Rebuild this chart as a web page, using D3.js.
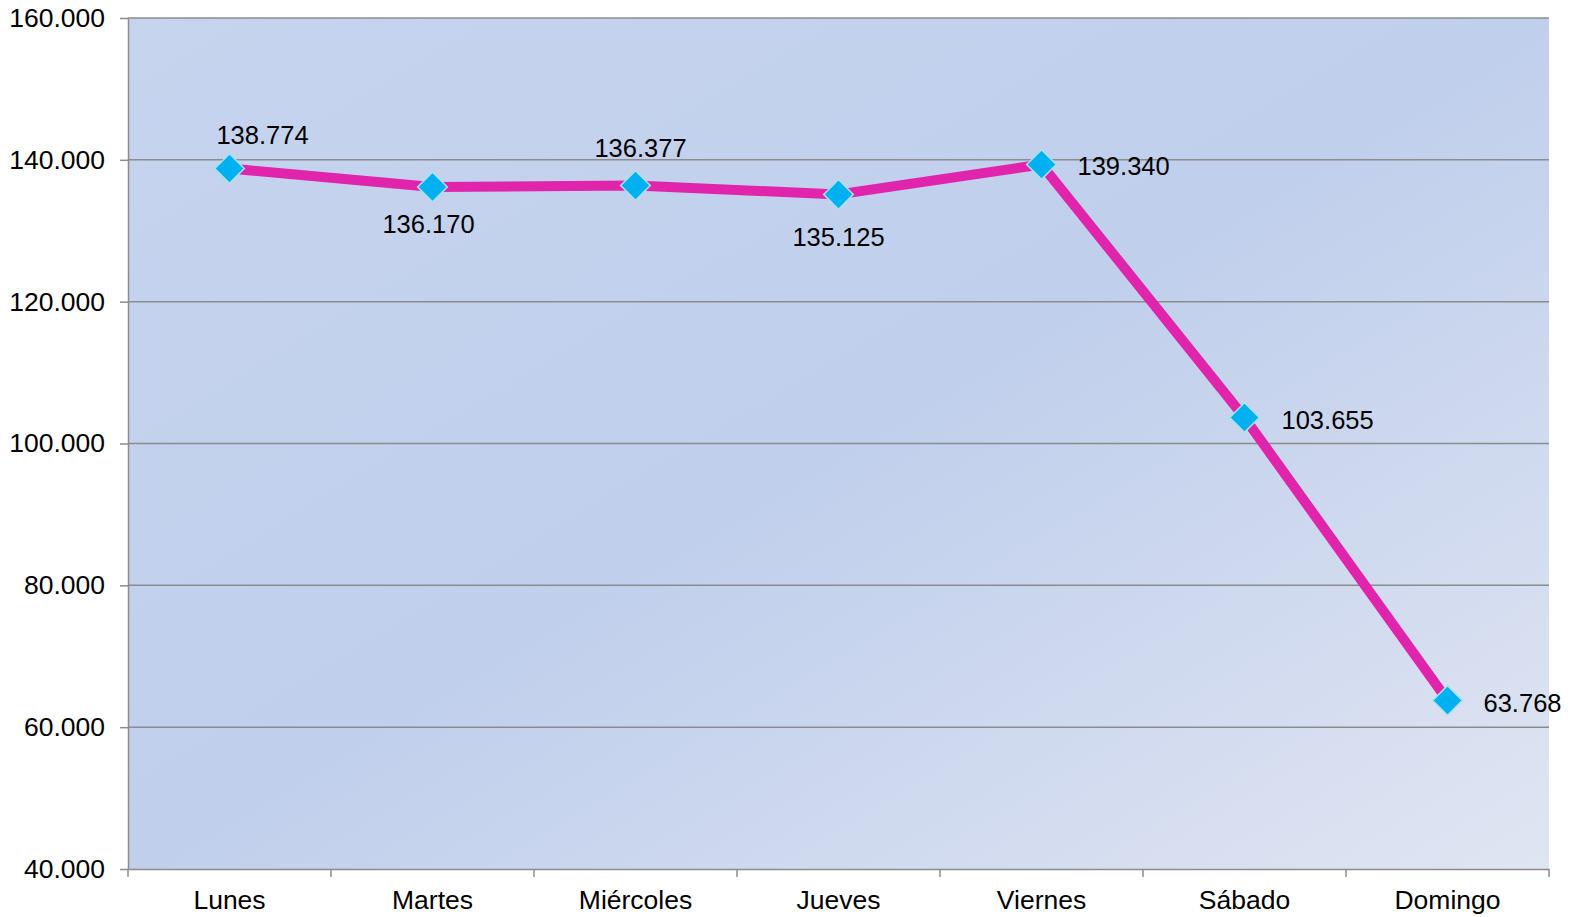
<!DOCTYPE html>
<html>
<head>
<meta charset="utf-8">
<script src="https://cdn.jsdelivr.net/npm/d3@7"></script>
<style>
  body { margin: 0; background: #fff; }
  svg { display: block; font-family: "Liberation Sans", Arial, sans-serif; }
</style>
</head>
<body>
<div id="myPlot"></div>
<script>
// Data
const days = ["Lunes", "Martes", "Miércoles", "Jueves", "Viernes", "Sábado", "Domingo"];
const values = [138774, 136170, 136377, 135125, 139340, 103655, 63768];
const yTicks = [40000, 60000, 80000, 100000, 120000, 140000, 160000];
// label offsets from each point [dx, dy, anchor]
const labelOffset = [
  [33, -25, "middle"],
  [-4, 46, "middle"],
  [5, -29, "middle"],
  [0, 52, "middle"],
  [36, 10, "start"],
  [37, 11, "start"],
  [36, 12, "start"]
];

// Dimensions
const width = 1572;
const height = 917;
const plotLeft = 128, plotRight = 1549, plotTop = 18, plotBottom = 869;

const fmt = d => d3.format(",")(d).replace(/,/g, ".");

const svg = d3.select("#myPlot")
  .append("svg")
  .attr("width", width)
  .attr("height", height);

// Background gradient
const defs = svg.append("defs");
const grad = defs.append("linearGradient")
  .attr("id", "bg")
  .attr("x1", "0%").attr("y1", "0%")
  .attr("x2", "100%").attr("y2", "100%");
grad.append("stop").attr("offset", "0%").attr("stop-color", "#c6d4ee");
grad.append("stop").attr("offset", "50%").attr("stop-color", "#c0cfec");
grad.append("stop").attr("offset", "100%").attr("stop-color", "#e0e5f2");

const x = d3.scaleBand()
  .domain(days)
  .range([plotLeft, plotRight]);

const y = d3.scaleLinear()
  .domain([40000, 160000])
  .range([plotBottom, plotTop]);

svg.append("rect")
  .attr("x", plotLeft)
  .attr("y", plotTop)
  .attr("width", plotRight - plotLeft)
  .attr("height", plotBottom - plotTop)
  .attr("fill", "url(#bg)");

// Gridlines
svg.append("g")
  .selectAll("line")
  .data(yTicks.slice(1))
  .join("line")
  .attr("x1", plotLeft).attr("x2", plotRight)
  .attr("y1", d => y(d)).attr("y2", d => y(d))
  .attr("stroke", "#8c8c8c")
  .attr("stroke-width", 1.5);

// Y axis
const yAxis = svg.append("g")
  .attr("transform", `translate(${plotLeft},0)`)
  .call(d3.axisLeft(y).tickValues(yTicks).tickFormat(fmt).tickSize(8).tickPadding(15).tickSizeOuter(0));
yAxis.select(".domain").attr("stroke", "#8c8c8c").attr("stroke-width", 1.5);
yAxis.selectAll(".tick line").attr("stroke", "#8c8c8c").attr("stroke-width", 1.5);
yAxis.selectAll(".tick text")
  .attr("fill", "#000")
  .style("font-size", "26.5px")
  .style("font-family", "Liberation Sans, Arial, sans-serif");

// X axis
const xAxis = svg.append("g")
  .attr("transform", `translate(0,${plotBottom})`)
  .call(d3.axisBottom(x).tickSize(0).tickPadding(21));
xAxis.select(".domain").attr("stroke", "#8c8c8c").attr("stroke-width", 1.5);
xAxis.selectAll(".tick text")
  .attr("fill", "#000")
  .style("font-size", "26.5px")
  .style("font-family", "Liberation Sans, Arial, sans-serif");

// category boundary ticks
const bounds = days.map(d => x(d)).concat([x(days[days.length - 1]) + x.bandwidth()]);
svg.append("g")
  .selectAll("line")
  .data(bounds)
  .join("line")
  .attr("x1", d => d).attr("x2", d => d)
  .attr("y1", plotBottom).attr("y2", plotBottom + 8)
  .attr("stroke", "#8c8c8c")
  .attr("stroke-width", 1.5);

const cx = d => x(d) + x.bandwidth() / 2;

// Line
const line = d3.line()
  .x((d, i) => cx(days[i]))
  .y(d => y(d));

svg.append("path")
  .datum(values)
  .attr("d", line)
  .attr("fill", "none")
  .attr("stroke", "#e024ac")
  .attr("stroke-width", 10)
  .attr("stroke-linejoin", "round");

// Diamond markers
svg.append("g")
  .selectAll("path")
  .data(values)
  .join("path")
  .attr("d", d3.symbol().type(d3.symbolDiamond2).size(560))
  .attr("transform", (d, i) => `translate(${cx(days[i])},${y(d)})`)
  .attr("fill", "#00b0f0")
  .attr("stroke", "#a8e4ec")
  .attr("stroke-width", 1.5);

// Value labels
svg.append("g")
  .selectAll("text")
  .data(values)
  .join("text")
  .attr("x", (d, i) => cx(days[i]) + labelOffset[i][0])
  .attr("y", (d, i) => y(d) + labelOffset[i][1])
  .attr("text-anchor", (d, i) => labelOffset[i][2])
  .style("font-size", "25.5px")
  .attr("fill", "#000")
  .text(d => fmt(d));
</script>
</body>
</html>
